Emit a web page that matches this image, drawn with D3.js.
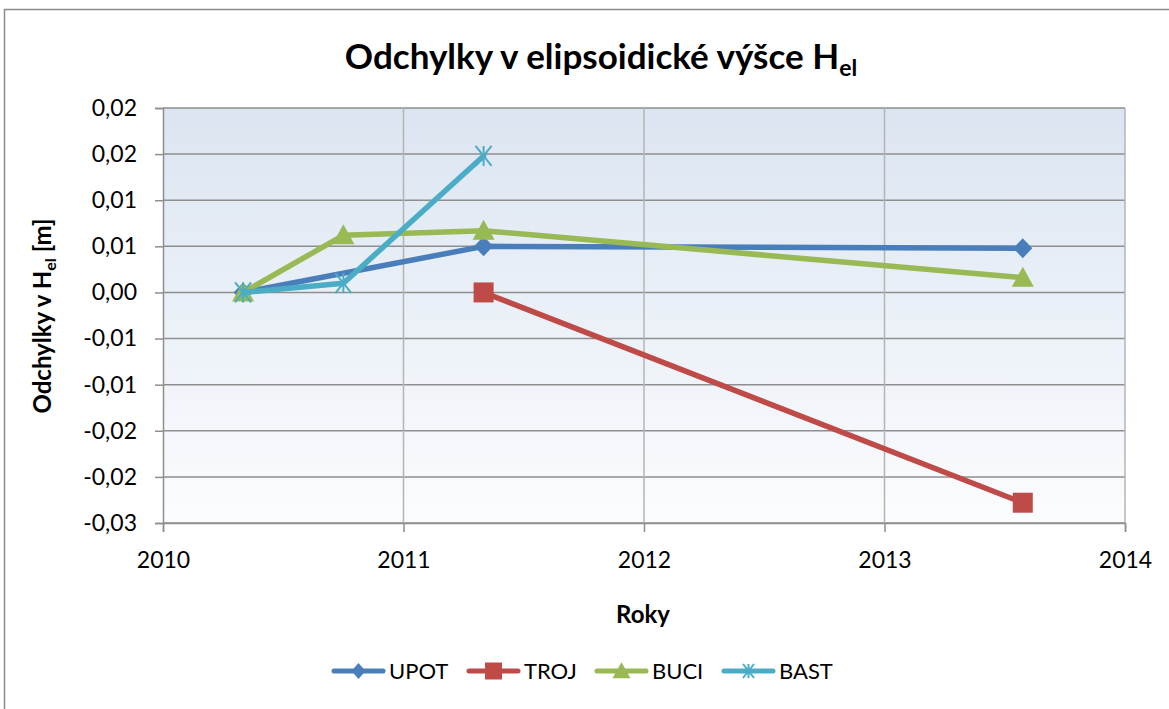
<!DOCTYPE html>
<html>
<head>
<meta charset="utf-8">
<script src="https://cdn.jsdelivr.net/npm/d3@7"></script>
<style>
  body { margin: 0; background: #fff; }
  svg { font-family: Lato, "Open Sans", sans-serif; }
</style>
</head>
<body>
<svg id="chart" width="1169" height="709"></svg>
<script>
// Series data (x = year, y = deviation in m)
const seriesNames = ['UPOT', 'TROJ', 'BUCI', 'BAST'];
const upotValues = [[2010.333, 0], [2011.333, 0.0050], [2013.575, 0.0048]];
const trojValues = [[2011.333, 0], [2013.575, -0.0228]];
const buciValues = [[2010.333, 0], [2010.75, 0.0062], [2011.333, 0.0067], [2013.575, 0.0016]];
const bastValues = [[2010.333, 0], [2010.75, 0.0010], [2011.333, 0.0148]];
const seriesColors = ['#4a7ebb', '#be4b48', '#98b954', '#4bacc6'];
const seriesSymbols = ['diamond', 'square', 'triangle', 'star'];

const xTicks = [2010, 2011, 2012, 2013, 2014];
const yTicks = [0.02, 0.015, 0.01, 0.005, 0, -0.005, -0.01, -0.015, -0.02, -0.025];
// Excel rounds the tick labels to two decimals
const yTickLabels = ['0,02', '0,02', '0,01', '0,01', '0,00', '-0,01', '-0,01', '-0,02', '-0,02', '-0,03'];

const allSeries = [upotValues, trojValues, buciValues, bastValues];

const svg = d3.select('#chart');
const plot = { left: 163, right: 1125, top: 108, bottom: 523 };

const x = d3.scaleLinear().domain([2010, 2014]).range([plot.left, plot.right]);
const y = d3.scaleLinear().domain([-0.025, 0.02]).range([plot.bottom, plot.top]);

// Outer chart frame
svg.append('rect')
  .attr('x', 4.5).attr('y', 9.5)
  .attr('width', 1170).attr('height', 710)
  .attr('fill', '#fff')
  .attr('stroke', '#8c8c8c')
  .attr('stroke-width', 1.5);

// Plot area gradient
const defs = svg.append('defs');
const grad = defs.append('linearGradient')
  .attr('id', 'bg').attr('x1', 0).attr('y1', 0).attr('x2', 0).attr('y2', 1);
grad.append('stop').attr('offset', '0%').attr('stop-color', '#dbe5f1');
grad.append('stop').attr('offset', '100%').attr('stop-color', '#fbfcfe');

svg.append('rect')
  .attr('x', plot.left).attr('y', plot.top)
  .attr('width', plot.right - plot.left)
  .attr('height', plot.bottom - plot.top)
  .attr('fill', 'url(#bg)');

// Gridlines
svg.append('g')
  .selectAll('line')
  .data(yTicks)
  .join('line')
  .attr('x1', plot.left).attr('x2', plot.right)
  .attr('y1', d => y(d)).attr('y2', d => y(d))
  .attr('stroke', '#8e8e8e').attr('stroke-width', 1.5);

svg.append('g')
  .selectAll('line')
  .data(xTicks.slice(1))
  .join('line')
  .attr('x1', d => x(d)).attr('x2', d => x(d))
  .attr('y1', plot.top).attr('y2', plot.bottom)
  .attr('stroke', '#b4b4b4').attr('stroke-width', 1.5);

// Axes
const xAxis = svg.append('g')
  .attr('transform', `translate(0, ${plot.bottom})`)
  .call(d3.axisBottom(x).tickValues(xTicks).tickFormat(d3.format('d')).tickSize(9).tickPadding(20));

const yAxis = svg.append('g')
  .attr('transform', `translate(${plot.left}, 0)`)
  .call(d3.axisLeft(y).tickValues(yTicks)
    .tickFormat((d, i) => yTickLabels[i]).tickSize(8).tickPadding(18));

[xAxis, yAxis].forEach(ax => {
  ax.select('.domain').attr('stroke', '#8e8e8e').attr('stroke-width', 1.5);
  ax.selectAll('.tick line').attr('stroke', '#8e8e8e').attr('stroke-width', 1.5);
  ax.selectAll('.tick text')
    .attr('font-size', 23).attr('fill', '#000')
    .attr('font-family', 'Lato, "Open Sans", sans-serif');
});

// Title
const title = svg.append('text')
  .attr('x', 601).attr('y', 69)
  .attr('text-anchor', 'middle')
  .attr('font-size', 35).attr('font-weight', 'bold');
title.append('tspan').text('Odchylky v elipsoidické výšce H');
title.append('tspan').attr('font-size', 23).attr('dy', 7).text('el');

// Axis titles
svg.append('text')
  .attr('x', 643).attr('y', 623)
  .attr('text-anchor', 'middle')
  .attr('font-size', 24).attr('font-weight', 'bold')
  .text('Roky');

const yTitle = svg.append('text')
  .attr('transform', `translate(51, 316) rotate(-90)`)
  .attr('text-anchor', 'middle')
  .attr('font-size', 24).attr('font-weight', 'bold');
yTitle.append('tspan').text('Odchylky v H');
yTitle.append('tspan').attr('font-size', 16).attr('dy', 5).text('el');
yTitle.append('tspan').attr('dy', -5).text(' [m]');

// Marker drawing helper (w, h = marker box size)
function drawMarker(g, symbol, color, w, h) {
  const hw = w / 2, hh = h / 2;
  if (symbol === 'star') {
    // Excel "star" marker: an X plus a vertical stroke
    const arms = [[-hw, -hh, hw, hh], [-hw, hh, hw, -hh], [0, -hh, 0, hh]];
    arms.forEach(a => {
      g.append('line')
        .attr('x1', a[0]).attr('y1', a[1])
        .attr('x2', a[2]).attr('y2', a[3])
        .attr('stroke', color).attr('stroke-width', 2);
    });
    return;
  }
  let pts;
  if (symbol === 'diamond') pts = [[0, -hh], [hw, 0], [0, hh], [-hw, 0]];
  else if (symbol === 'square') pts = [[-hw, -hh], [hw, -hh], [hw, hh], [-hw, hh]];
  else pts = [[0, -hh * 1.1], [hw, hh * 0.9], [-hw, hh * 0.9]];
  g.append('path')
    .attr('d', d3.line()(pts) + 'Z')
    .attr('fill', color);
}

const markerSize = { diamond: [19, 20], square: [20, 20], triangle: [22, 20], star: [16, 20] };
const legendMarkerSize = { diamond: [14, 16], square: [17, 17], triangle: [18, 16], star: [11, 14] };

const line = d3.line().x(d => x(d[0])).y(d => y(d[1]));

allSeries.forEach((vals, i) => {
  svg.append('path')
    .datum(vals)
    .attr('d', line)
    .attr('fill', 'none')
    .attr('stroke', seriesColors[i])
    .attr('stroke-width', 5.5)
    .attr('stroke-linejoin', 'round')
    .attr('stroke-linecap', 'round');

  const [mw, mh] = markerSize[seriesSymbols[i]];
  vals.forEach(d => {
    const g = svg.append('g').attr('transform', `translate(${x(d[0])}, ${y(d[1])})`);
    drawMarker(g, seriesSymbols[i], seriesColors[i], mw, mh);
  });
});

// Legend
const legendX = [334, 469, 597, 724];
seriesNames.forEach((name, i) => {
  const g = svg.append('g').attr('transform', `translate(${legendX[i]}, 671)`);
  g.append('line')
    .attr('x1', 0).attr('x2', 49)
    .attr('stroke', seriesColors[i]).attr('stroke-width', 5)
    .attr('stroke-linecap', 'round');
  const m = g.append('g').attr('transform', 'translate(24.5, 0)');
  const [lw, lh] = legendMarkerSize[seriesSymbols[i]];
  drawMarker(m, seriesSymbols[i], seriesColors[i], lw, lh);
  g.append('text')
    .attr('x', 55).attr('y', 8)
    .attr('font-size', 22)
    .text(name);
});
</script>
</body>
</html>
